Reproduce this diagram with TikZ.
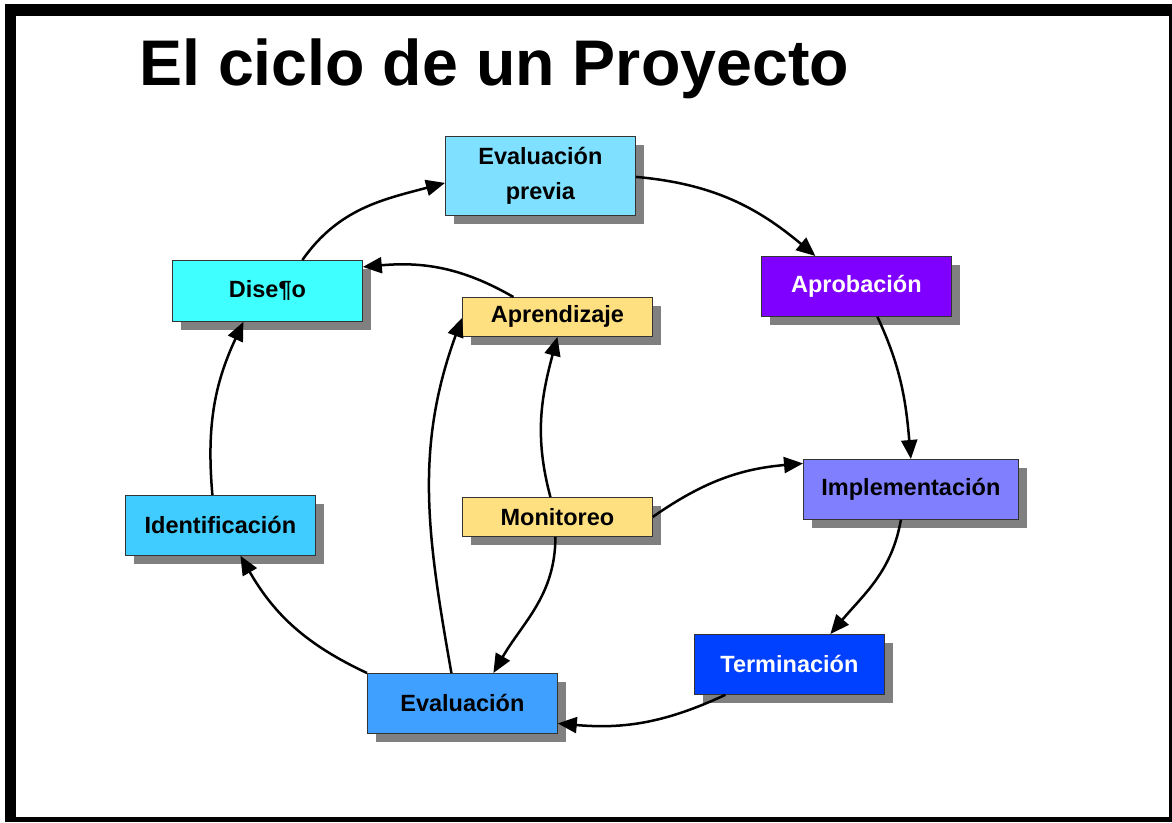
\documentclass[tikz,border=0pt]{standalone}
\usepackage{fontspec}
\setmainfont{Liberation Sans}
\usetikzlibrary{arrows.meta,shadows}
\definecolor{shgray}{HTML}{808080}
\definecolor{cEvp}{HTML}{80E0FF}
\definecolor{cDis}{HTML}{40FFFF}
\definecolor{cApr}{HTML}{8000FF}
\definecolor{cYel}{HTML}{FFE080}
\definecolor{cImp}{HTML}{8080FF}
\definecolor{cIde}{HTML}{40CCFF}
\definecolor{cTer}{HTML}{0040FF}
\definecolor{cEva}{HTML}{40A0FF}
\tikzset{
  box/.style={draw=black!80, line width=0.8pt, minimum width=190pt, minimum height=60pt,
    inner sep=0pt, anchor=north west, align=center,
    font=\bfseries\fontsize{23.5}{35}\selectfont,
    general shadow={fill=shgray, shadow xshift=9pt, shadow yshift=-9pt}},
  conn/.style={line width=2.5pt, -{Triangle[length=19pt,width=16pt]}},
}
\begin{document}
\begin{tikzpicture}[x=1pt,y=1pt]
\useasboundingbox (0,0) rectangle (1172,-822);
\fill[black] (5,-4) rectangle (1172,-822);
\fill[white] (16,-16) rectangle (1169,-817);
\node[anchor=base west, inner sep=0pt, font=\bfseries\fontsize{64.5}{70}\selectfont] (title) at (139,-85) {El ciclo de un Proyecto};

\node[box, fill=cEvp, minimum height=79pt] (evp) at (445,-136) {Evaluación\\previa};
\node[box, fill=cDis, minimum height=61pt] (dis) at (172,-260) {Dise¶o};
\node[box, fill=cApr, text=white] (apr) at (761,-256) {Aprobación};
\node[box, fill=cYel, minimum height=39pt] (apz) at (462,-297) {Aprendizaje};
\node[box, fill=cYel, minimum height=39pt] (mon) at (462,-497) {Monitoreo};
\node[box, fill=cImp, minimum width=215pt] (imp) at (803,-459) {Implementación};
\node[box, fill=cIde] (ide) at (125,-495) {Identificación};
\node[box, fill=cTer, text=white] (ter) at (694,-634) {Terminación};
\node[box, fill=cEva] (eva) at (367,-673) {Evaluación};

\draw[conn] ([xshift=35pt]dis.north) to[out=55,in=195] ([yshift=-7pt]evp.west);
\draw[conn] ([yshift=-1pt]evp.east) to[out=-5,in=140] ([xshift=-41pt]apr.north);
\draw[conn] ([xshift=21pt]apr.south) to[out=-65,in=95] (imp.north);
\draw[conn] ([xshift=-10pt]imp.south) to[out=-100,in=50] ([xshift=41pt]ter.north);
\draw[conn] ([xshift=-64pt]ter.south) to[out=-155,in=-5] ([yshift=-20pt]eva.east);
\draw[conn] (eva.north west) to[out=155,in=-60] ([xshift=20pt]ide.south);
\draw[conn] ([xshift=-8pt]ide.north) to[out=95,in=-115] ([xshift=-24pt]dis.south);
\draw[conn] ([xshift=-44pt]apz.north) to[out=150,in=5] ([yshift=24pt]dis.east);
\draw[conn] ([xshift=-11pt]eva.north) to[out=100,in=-110] ([yshift=-1pt]apz.west);
\draw[conn] ([xshift=-7pt]mon.north) to[out=105,in=-105] (apz.south);
\draw[conn] (mon.east) to[out=35,in=185] ([yshift=26pt]imp.west);
\draw[conn] ([xshift=-2pt]mon.south) to[out=-90,in=60] ([xshift=31pt]eva.north);
\end{tikzpicture}
\end{document}
